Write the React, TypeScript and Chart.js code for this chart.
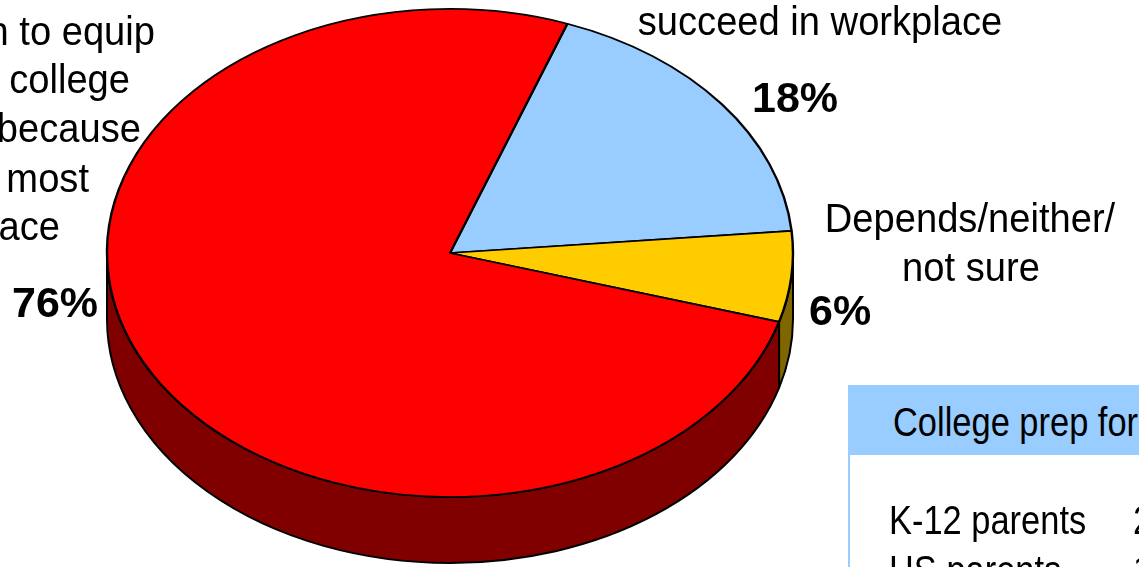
import React, { useEffect, useRef } from "react";
import { Chart, registerables } from "chart.js";

Chart.register(...registerables);

// ---- data ----
const sliceNames = ["Succeed in workplace", "Depends/neither/not sure", "Equip for college"];
const sliceValues = [18, 6, 76];
const sliceColors = ["#99CCFF", "#FFCC00", "#FF0000"];
const sideColors = ["#4D6680", "#806600", "#800000"];
const startRotation = 20; // degrees clockwise from 12 o'clock where first slice begins

const workplaceLines = ["succeed in workplace"];
const dependsLines = ["Depends/neither/", "not sure"];
const collegeLines = ["n to equip", "college", "because", "most", "ace"];

const tableTitle = "College prep for";
const tableRowLabels = ["K-12 parents", "HS parents"];
const tableRowValues = ["2", "1"];

// ---- geometry of the 3D pie on screen ----
const CX = 450;
const CY = 253;
const RX = 343;
const RY = 244;
const DEPTH = 66;

const FONT = '"Liberation Sans", Arial, sans-serif';
const TEXT_SX = 0.93;

function scaledText(
  ctx: CanvasRenderingContext2D,
  text: string,
  x: number,
  y: number,
  align: CanvasTextAlign
) {
  ctx.save();
  ctx.translate(x, y);
  ctx.scale(TEXT_SX, 1);
  ctx.textAlign = align;
  ctx.fillText(text, 0, 0);
  ctx.restore();
}

const pie3d = {
  id: "pie3d",
  beforeDatasetsDraw(chart: any) {
    const meta = chart.getDatasetMeta(0);
    const arcs = meta.data;
    if (!arcs.length) return;
    const ctx: CanvasRenderingContext2D = chart.ctx;
    // side walls (front half only)
    arcs.forEach((arc: any, i: number) => {
      const { startAngle, endAngle } = arc.getProps(["startAngle", "endAngle"], true);
      for (const off of [-2 * Math.PI, 0, 2 * Math.PI]) {
        const s = Math.max(startAngle + off, 0);
        const e = Math.min(endAngle + off, Math.PI);
        if (e <= s) continue;
        ctx.save();
        ctx.beginPath();
        ctx.ellipse(CX, CY, RX, RY, 0, s, e, false);
        ctx.lineTo(CX + RX * Math.cos(e), CY + DEPTH + RY * Math.sin(e));
        ctx.ellipse(CX, CY + DEPTH, RX, RY, 0, e, s, true);
        ctx.closePath();
        ctx.fillStyle = sideColors[i];
        ctx.fill();
        ctx.lineWidth = 2;
        ctx.lineJoin = "round";
        ctx.strokeStyle = "#000";
        ctx.stroke();
        ctx.restore();
      }
    });
    // squash the top face into an ellipse
    const { x, y, outerRadius } = arcs[0];
    ctx.save();
    ctx.translate(CX, CY);
    ctx.scale(RX / outerRadius, RY / outerRadius);
    ctx.translate(-x, -y);
  },
  afterDatasetsDraw(chart: any) {
    chart.ctx.restore();
  },
  afterDraw(chart: any) {
    const ctx: CanvasRenderingContext2D = chart.ctx;
    ctx.save();
    ctx.fillStyle = "#000";
    ctx.textBaseline = "alphabetic";
    const reg = `41px ${FONT}`;
    const bold = `bold 43px ${FONT}`;
    const pct = sliceValues.map((v) => `${v}%`);

    // workplace label
    ctx.font = reg;
    scaledText(ctx, workplaceLines[0], 820, 35, "center");
    ctx.font = bold;
    ctx.textAlign = "left";
    ctx.fillText(pct[0], 752, 112);

    // depends label
    ctx.font = reg;
    scaledText(ctx, dependsLines[0], 970, 232, "center");
    scaledText(ctx, dependsLines[1], 971, 281, "center");
    ctx.font = bold;
    ctx.textAlign = "left";
    ctx.fillText(pct[1], 809, 325);

    // college label (cut at left edge)
    const rights = [155, 130, 141, 89, 60];
    const bases = [45, 93, 142, 192, 240];
    ctx.font = reg;
    collegeLines.forEach((t, i) => scaledText(ctx, t, rights[i], bases[i], "right"));
    ctx.font = bold;
    ctx.textAlign = "left";
    ctx.fillText(pct[2], 12, 317);
    ctx.restore();
  },
};

const narrowText: React.CSSProperties = {
  position: "absolute",
  fontFamily: FONT,
  fontSize: 41,
  lineHeight: 1,
  whiteSpace: "nowrap",
  color: "#000",
  transform: "scaleX(0.84)",
  transformOrigin: "left top",
};

export default function App() {
  const ref = useRef<HTMLCanvasElement | null>(null);
  useEffect(() => {
    if (!ref.current) return;
    const chart = new Chart(ref.current, {
      type: "pie",
      data: {
        labels: sliceNames,
        datasets: [
          {
            data: sliceValues,
            backgroundColor: sliceColors,
            borderColor: "#000",
            borderWidth: 2,
            clip: false as any,
          },
        ],
      },
      options: {
        animation: false,
        responsive: false,
        maintainAspectRatio: false,
        rotation: startRotation,
        events: [],
        layout: { padding: 0 },
        plugins: { legend: { display: false }, tooltip: { enabled: false } },
      },
      plugins: [pie3d],
    });
    return () => chart.destroy();
  }, []);

  return (
    <div
      style={{
        position: "fixed",
        left: 0,
        top: 0,
        width: 1139,
        height: 567,
        overflow: "hidden",
        background: "#fff",
      }}
    >
      <canvas ref={ref} width={1139} height={567} style={{ display: "block", width: 1139, height: 567 }} />
      <div
        style={{
          position: "absolute",
          left: 848,
          top: 385,
          width: 400,
          height: 300,
          borderLeft: "2px solid #99CCFF",
        }}
      >
        <div style={{ position: "absolute", left: 0, top: 0, width: "100%", height: 70, background: "#99CCFF" }} />
        <div style={{ ...narrowText, left: 43, top: 17 }}>{tableTitle}</div>
        {tableRowLabels.map((t, i) => (
          <React.Fragment key={t}>
            <div style={{ ...narrowText, left: 39, top: 115 + i * 50 }}>{t}</div>
            <div style={{ ...narrowText, left: 283, top: 115 + i * 50 }}>{tableRowValues[i]}</div>
          </React.Fragment>
        ))}
      </div>
    </div>
  );
}
